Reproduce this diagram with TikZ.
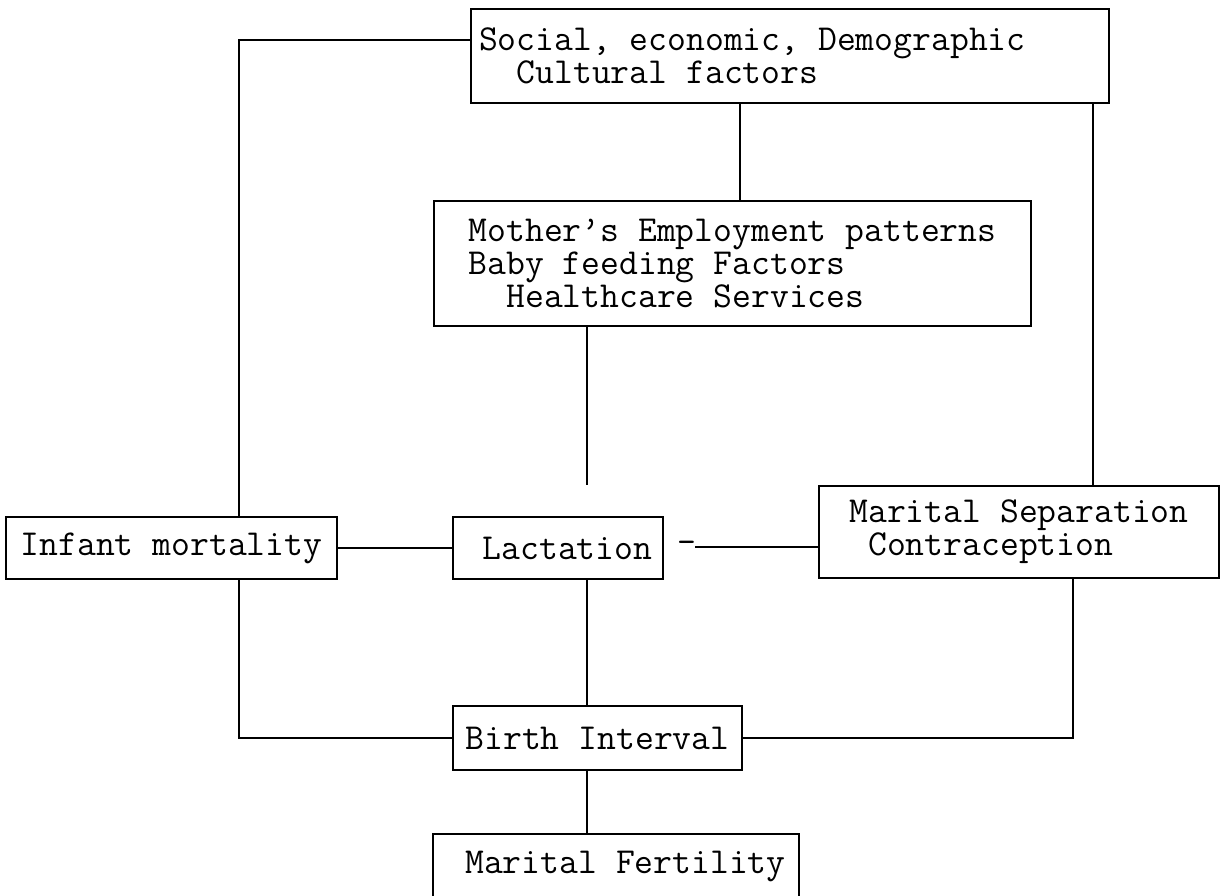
\documentclass[tikz,border=0pt]{standalone}
\usepackage{fontspec}
\usepackage{tikz}
\usetikzlibrary{calc}
\newcommand{\boxfont}{\ttfamily\fontsize{18.3pt}{16.5pt}\selectfont}

\begin{document}
\begin{tikzpicture}[x=0.5pt,y=-0.5pt,
    factor/.style={draw,line width=1pt,font=\boxfont,inner xsep=0pt,inner ysep=0pt},
    link/.style={line width=1pt}]
    \useasboundingbox (0,0) rectangle (1229,895);
    \clip (0,0) rectangle (1229,895);
    \fill[white] (0,0) rectangle (1229,895);

    % bus lines
    \coordinate (lbus) at (239,0);
    \coordinate (rbus) at (1093,0);
    \coordinate (rlow) at (1073,0);
    \coordinate (top) at (740,0);
    \coordinate (mid) at (587,0);
    \coordinate (gapend) at (587,485);
    \coordinate (sepfrom) at (695,547);

    % boxes
    \node[factor,anchor=north west,align=left,minimum width=319pt,minimum height=47pt] (social) at (470,8)
      {Social, economic, Demographic\hphantom{xxxx}\\\hphantom{xx}Cultural factors};
    \node[factor,anchor=north west,align=left,minimum width=298.5pt,minimum height=62.5pt] (mother) at (433,200)
      {Mother’s Employment patterns\\Baby feeding Factors\\\hphantom{xx}Healthcare Services};
    \node[factor,minimum width=165.5pt,minimum height=31pt] (infant) at (171.5,548) {Infant mortality};
    \node[factor,minimum width=105pt,minimum height=31pt] (lact) at (558,548) {\hphantom{x}Lactation};
    \node[factor,anchor=north west,align=left,minimum width=200pt,minimum height=46pt] (marsep) at (818,485)
      {\hphantom{x}Marital Separation\hphantom{x}\\\hphantom{xx}Contraception};
    \node[factor,minimum width=144.5pt,minimum height=32pt] (birth) at (597.5,738) {Birth Interval};
    \node[factor,minimum width=183pt,minimum height=32pt] (fert) at (616,866) {\hphantom{x}Marital Fertility};
    \node[font=\boxfont,inner sep=0pt,anchor=base] (dash) at (687,553) {-};

    % connectors
    \draw[link] ($(social.north west)+(0,32)$) -| (infant.north -| lbus);
    \draw[link] (social.south -| top) -- (mother.north -| top);
    \draw[link] (social.south -| rbus) -- (marsep.north -| rbus);
    \draw[link] (mother.south -| mid) -- (gapend);
    \draw[link] (infant) -- (lact);
    \draw[link] (sepfrom) -- (sepfrom -| marsep.west);
    \draw[link] (infant.south -| lbus) |- (birth.west);
    \draw[link] (lact.south -| mid) -- (birth.north -| mid);
    \draw[link] (marsep.south -| rlow) |- (birth.east);
    \draw[link] (birth.south -| mid) -- (fert.north -| mid);
\end{tikzpicture}
\end{document}
